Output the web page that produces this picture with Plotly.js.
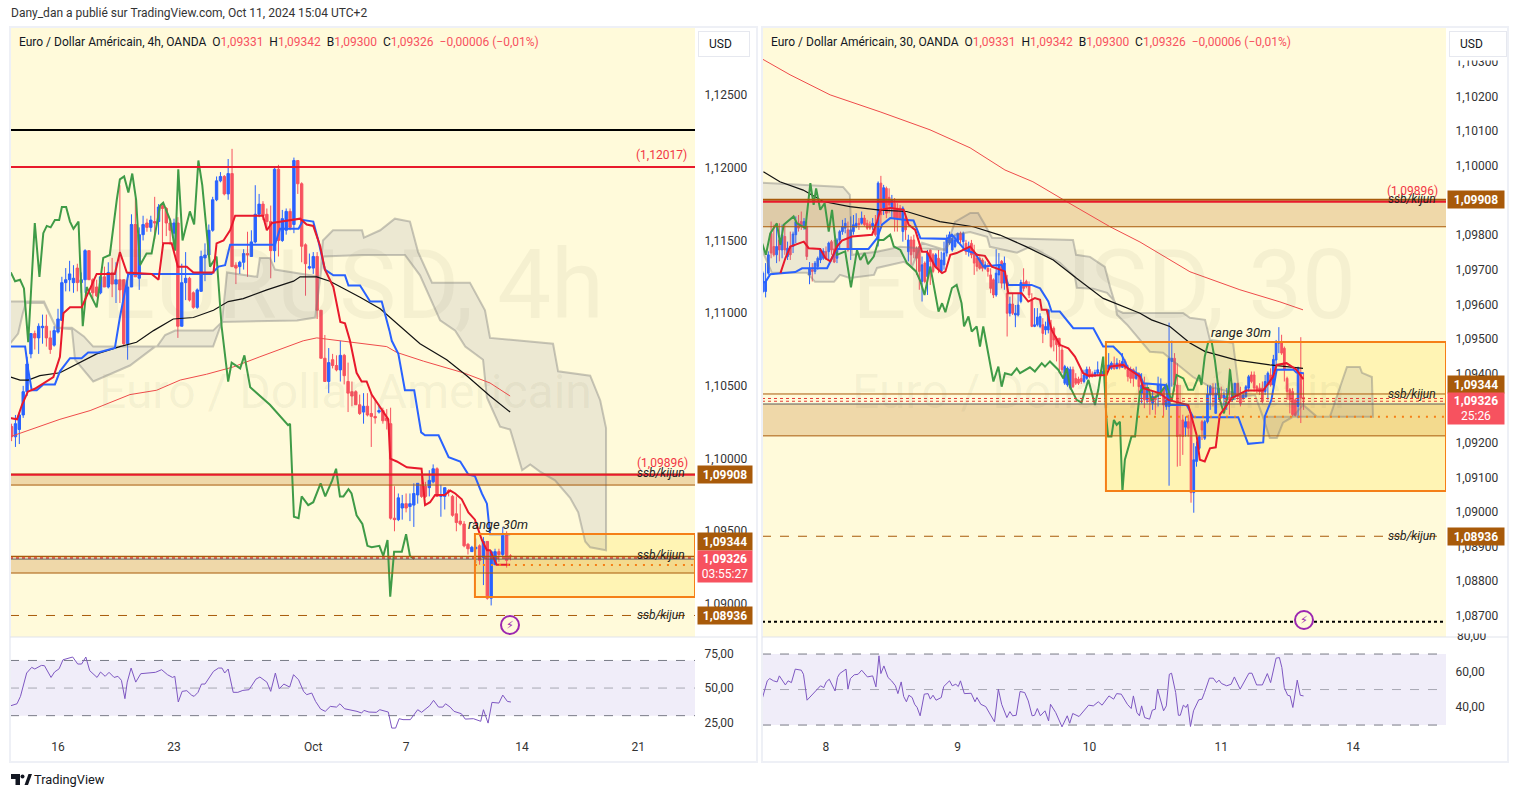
<!DOCTYPE html>
<html><head><meta charset="utf-8">
<script src="https://cdn.plot.ly/plotly-3.0.1.min.js"></script>
<style>html,body{margin:0;padding:0;background:#fff}#c{width:1518px;height:797px}</style>
</head><body><div id="c"></div>
<script>
// ---------- LEFT PANEL (4h) candles ----------
const lOpen=[1.1022,1.1015,1.1020,1.1030,1.1046,1.1072,1.1086,1.1083,1.1090,1.1091,1.1083,1.1078,1.1087,1.1095,1.1121,1.1123,1.1121,1.1131,1.1121,1.1123,1.1143,1.1123,1.1118,1.1114,1.1125,1.1118,1.1128,1.1120,1.1123,1.1123,1.1079,1.1118,1.1161,1.1124,1.1154,1.1162,1.1159,1.1163,1.1163,1.1174,1.1172,1.1162,1.1155,1.1162,1.1091,1.1121,1.1124,1.1114,1.1104,1.1115,1.1138,1.1140,1.1157,1.1178,1.1191,1.1194,1.1182,1.1196,1.1133,1.1132,1.1135,1.1141,1.1139,1.1149,1.1168,1.1175,1.1168,1.1163,1.1143,1.1199,1.1150,1.1157,1.1170,1.1161,1.1205,1.1189,1.1147,1.1131,1.1131,1.1139,1.1102,1.1069,1.1053,1.1068,1.1064,1.1061,1.1071,1.1053,1.1046,1.1046,1.1037,1.1032,1.1036,1.1031,1.1029,1.1032,1.1033,1.1028,1.1024,1.0959,1.0958,1.0966,1.0969,1.0967,1.0968,1.0975,1.0982,1.0981,1.0980,1.0984,1.0993,1.0974,1.0974,1.0978,1.0974,1.0962,1.0957,1.0955,1.0941,1.0936,1.0938,1.0940,1.0932,1.0943,1.0904,1.0927,1.0936,1.0934,1.0948,1.09331];
const lHigh=[1.1024,1.1030,1.1032,1.1050,1.1070,1.1086,1.1088,1.1093,1.1099,1.1099,1.1088,1.1091,1.1103,1.1125,1.1131,1.1136,1.1133,1.1134,1.1128,1.1144,1.1143,1.1124,1.1123,1.1127,1.1132,1.1135,1.1138,1.1135,1.1188,1.1123,1.1128,1.1168,1.1179,1.1159,1.1167,1.1165,1.1167,1.1180,1.1175,1.1175,1.1173,1.1165,1.1165,1.1166,1.1134,1.1142,1.1125,1.1115,1.1117,1.1143,1.1148,1.1161,1.1180,1.1194,1.1197,1.1195,1.1206,1.1213,1.1135,1.1136,1.1144,1.1156,1.1157,1.1188,1.1182,1.1177,1.1172,1.1174,1.1200,1.1202,1.1171,1.1172,1.1172,1.1207,1.1205,1.1190,1.1148,1.1141,1.1142,1.1142,1.1102,1.1085,1.1076,1.1072,1.1071,1.1081,1.1072,1.1066,1.1053,1.1047,1.1044,1.1045,1.1045,1.1045,1.1041,1.1037,1.1035,1.1034,1.1035,1.0981,1.0976,1.0975,1.0976,1.0976,1.0983,1.0983,1.0990,1.0984,1.0992,1.0996,1.0994,1.0982,1.0980,1.0979,1.0975,1.0974,1.0969,1.0957,1.0942,1.0940,1.0945,1.0941,1.0946,1.0943,1.0937,1.0938,1.0938,1.0953,1.0950,1.09342];
const lLow=[1.1012,1.1008,1.1010,1.1028,1.1043,1.1069,1.1075,1.1072,1.1079,1.1077,1.1072,1.1077,1.1086,1.1095,1.1115,1.1115,1.1114,1.1115,1.1114,1.1114,1.1123,1.1110,1.1111,1.1113,1.1118,1.1117,1.1111,1.1107,1.1107,1.1078,1.1068,1.1118,1.1125,1.1116,1.1150,1.1156,1.1156,1.1151,1.1154,1.1148,1.1153,1.1147,1.1143,1.1083,1.1091,1.1109,1.1108,1.1103,1.1103,1.1115,1.1122,1.1139,1.1156,1.1177,1.1190,1.1181,1.1178,1.1132,1.1120,1.1127,1.1130,1.1125,1.1139,1.1148,1.1166,1.1164,1.1159,1.1124,1.1135,1.1139,1.1149,1.1154,1.1157,1.1155,1.1182,1.1135,1.1112,1.1130,1.1127,1.1096,1.1069,1.1053,1.1045,1.1062,1.1060,1.1053,1.1051,1.1032,1.1036,1.1037,1.1030,1.1024,1.1029,1.1008,1.1024,1.1031,1.1024,1.1020,1.0958,1.0950,1.0957,1.0958,1.0963,1.0957,1.0953,1.0969,1.0973,1.0973,1.0974,1.0983,1.0974,1.0960,1.0965,1.0974,1.0960,1.0950,1.0954,1.0939,1.0934,1.0936,1.0928,1.0927,1.0913,1.0903,1.0899,1.0927,1.0929,1.0933,1.0925,1.09300];
const lClose=[1.1015,1.1024,1.1030,1.1046,1.1065,1.1086,1.1083,1.1091,1.1091,1.1083,1.1075,1.1088,1.1096,1.1121,1.1123,1.1127,1.1124,1.1121,1.1123,1.1143,1.1123,1.1114,1.1112,1.1125,1.1118,1.1128,1.1120,1.1123,1.1116,1.1079,1.1118,1.1161,1.1125,1.1154,1.1161,1.1159,1.1164,1.1162,1.1173,1.1172,1.1162,1.1157,1.1162,1.1091,1.1121,1.1124,1.1109,1.1104,1.1116,1.1139,1.1140,1.1157,1.1178,1.1191,1.1194,1.1182,1.1196,1.1132,1.1131,1.1135,1.1141,1.1140,1.1149,1.1168,1.1175,1.1167,1.1163,1.1143,1.1199,1.1150,1.1165,1.1170,1.1159,1.1205,1.1189,1.1146,1.1134,1.1132,1.1139,1.1102,1.1069,1.1053,1.1066,1.1064,1.1061,1.1071,1.1057,1.1045,1.1043,1.1037,1.1031,1.1036,1.1030,1.1029,1.1028,1.1033,1.1026,1.1026,1.0959,1.0958,1.0973,1.0969,1.0966,1.0969,1.0976,1.0983,1.0974,1.0974,1.0985,1.0993,1.0974,1.0975,1.0980,1.0977,1.0961,1.0956,1.0955,1.0940,1.0938,1.0939,1.0939,1.0930,1.0943,1.0904,1.0936,1.0936,1.0934,1.0947,1.0930,1.09326];
// left lines (bar number, price)
const lConvX=[-0.4,1.4,2.7,4.2,6,10.8,12.5,13.4,15.1,18.1,19.8,22,26.7,28,29.8,36.2,38,39.2,41.4,43,45.3,47,52.2,53,54.8,56.5,57.8,65,66,67.3,74.6,76.3,78,79.8,81,83.2,85,86.2,87.5,89.2,90.5,91.8,93.1,94.8,97.4,97.9,99.6,102.2,106,106.9,108.2,109.5,112,113.4,114.7,116.4,118.1,119.8,121.6,122.9,123.7,125.4,128.9];
const lConvY=[1.1028,1.1027,1.1037,1.1046,1.1048,1.1056,1.1070,1.1100,1.1104,1.1104,1.1114,1.1127,1.1127,1.1142,1.1128,1.1127,1.1123,1.1148,1.1148,1.1132,1.1132,1.1128,1.1128,1.1148,1.1150,1.1157,1.1167,1.1167,1.1157,1.1162,1.1165,1.1161,1.1160,1.1146,1.1130,1.1118,1.1094,1.1093,1.1081,1.1059,1.1053,1.1053,1.1044,1.1037,1.1027,1.1000,1.0998,1.0994,1.0993,1.0968,1.0970,1.0975,1.0975,1.0978,1.0976,1.0972,1.0963,1.0958,1.0944,1.0937,1.0937,1.0927,1.0927];
const lBaseX=[-0.2,3.5,4.3,5.2,6.5,8.2,11.2,12.5,15.1,18.1,19.8,22.4,26.7,28,30.2,51.7,53.5,55.2,56.5,57.3,68.1,69.4,74.2,75.4,78,79.3,81,83.2,86.2,87.1,90.1,92.7,95.7,97.7,98.3,100,101.7,104.1,105.9,106.9,110.4,113,116,118.1,119.8,121.6,122.9,123.7,128.9];
const lBaseY=[1.1077,1.1077,1.1061,1.1047,1.1047,1.1051,1.1051,1.1060,1.1069,1.1069,1.1073,1.1073,1.1076,1.1097,1.1127,1.1127,1.1132,1.1133,1.1147,1.1147,1.1147,1.1158,1.1158,1.1164,1.1163,1.1150,1.1130,1.1126,1.1126,1.1119,1.1119,1.1108,1.1108,1.1088,1.1081,1.1072,1.1047,1.1047,1.1018,1.1016,1.1016,1.1001,1.0998,1.0989,1.0988,1.0976,1.0969,1.0948,1.0948];
const lLagX=[-0.2,0.9,2.2,3.2,4.3,6,7.2,8.2,9.1,10.1,11.2,12.3,13,14.1,15.1,16,17.3,18.4,19.4,20.7,22,23.7,25.4,27.2,28,29.1,30.2,31.2,32.2,33.2,34.9,36.2,38.4,39.2,41,42.3,43.1,44.2,46.1,47.2,48.3,49.3,51.3,53,54.3,56,56.9,59.1,60.2,61.7,66.8,71.5,72,73,74.2,75,76.7,78,79.9,81.1,82.9,83.9,84.9,85.8,87.1,87.9,89.2,90.7,92,93.1,95.1,96.1,97.2,97.9,98.9,100.9,102,103,104.1];
const lLagY=[1.1128,1.1122,1.1123,1.1117,1.1080,1.1162,1.1125,1.1155,1.1160,1.1159,1.1164,1.1164,1.1173,1.1173,1.1163,1.1158,1.1163,1.1091,1.1118,1.1111,1.1104,1.1138,1.1140,1.1178,1.1192,1.1194,1.1183,1.1196,1.1178,1.1133,1.1141,1.1141,1.1174,1.1176,1.1164,1.1143,1.1199,1.1150,1.1170,1.1161,1.1205,1.1188,1.1132,1.1139,1.1091,1.1053,1.1066,1.1062,1.1071,1.1049,1.1037,1.1023,1.1024,1.0960,1.0959,1.0974,1.0968,1.0970,1.0983,1.0974,1.0985,1.0993,1.0974,1.0974,1.0979,1.0976,1.0961,1.0955,1.0940,1.0939,1.0940,1.0933,1.0944,1.0905,1.0936,1.0936,1.0948,1.0933,1.0931];
const lUpX=[-0.4,8.4,11.5,15.6,18.7,21.1,37.6,39.7,42.3,52.1,54.4,55.7,63.5,64.2,66.8,68.1,72.8,79.8,80.5,83.1,90.6,91.1,95.3,99.1,103,105.1,108.7,118.5,122.4,123.7,140,141.3,149.6,152.2,153.7];
const lUpY=[1.1108,1.1108,1.1090,1.1090,1.1084,1.1077,1.1077,1.1085,1.1088,1.1088,1.1094,1.1128,1.1125,1.1138,1.1138,1.1130,1.1128,1.1125,1.1150,1.1157,1.1157,1.1152,1.1157,1.1165,1.1163,1.1142,1.1121,1.1121,1.1102,1.1083,1.1079,1.1060,1.1057,1.1040,1.1021];
const lLoX=[-0.4,1.7,2.9,3.7,8.4,11.5,15.6,16.4,21.1,30.6,37.1,52.1,54.4,73.8,78.5,80.5,90.6,101.7,105.6,110.8,114.7,117.3,121.9,122.9,126.3,128.9,129.7,132,134.1,136.6,140.5,144.4,146.5,148.3,149.6,153.7];
const lLoY=[1.1079,1.1086,1.1100,1.1107,1.1107,1.1090,1.1089,1.1068,1.1053,1.1064,1.1077,1.1077,1.1094,1.1095,1.1097,1.1139,1.1140,1.1140,1.1126,1.1095,1.1088,1.1077,1.1068,1.1042,1.1022,1.1020,1.1013,1.0992,1.0996,1.0991,1.0985,1.0973,1.0963,1.0943,1.0939,1.0937];
const lBlackX=[-0.2,2.2,4.3,7.3,12.5,16.8,22,28,32.3,36.7,41.8,47,52.2,56,59.9,66,72.9,74.6,78.9,82.3,90.1,95.3,101.7,105.6,112.5,117.7,123.7,128.9];
const lBlackY=[1.1056,1.1054,1.1054,1.1057,1.1059,1.1065,1.1072,1.1077,1.1080,1.1088,1.1096,1.1097,1.1102,1.1108,1.1110,1.1116,1.1122,1.1125,1.1125,1.1122,1.1111,1.1103,1.1088,1.1079,1.1068,1.1057,1.1043,1.1032];
const lMaRedX=[-0.4,4.8,12.5,20.3,30.6,37.5,43.6,50.4,57.3,64.2,72,75.4,78.9,87.5,97,99.6,106.5,116.8,123.7,128.9];
const lMaRedY=[1.1015,1.1020,1.1027,1.1033,1.1044,1.1047,1.1054,1.1058,1.1063,1.1070,1.1078,1.1081,1.1083,1.1080,1.1077,1.1073,1.1067,1.1059,1.1052,1.1043];
const lRsiX=[-0.2,1.4,2.3,3.9,5.2,6,7.7,8.5,10.2,11.1,12.3,13.3,15.8,17.1,18.1,19.2,20.2,22.1,23,24.2,25.2,26.5,27.5,28.4,29.3,29.9,30.9,32.1,33.4,34.7,37.2,38.8,40.3,41.6,42.2,43.1,44.1,45.3,46.6,47.2,48.2,49.1,50,52.2,53.5,54.4,55.1,56,57.3,58.5,59.8,61.4,63.2,64.2,66,67,68.2,69.2,70.4,71.9,72.9,74.2,75.5,76.3,77.6,78.6,79.9,81.1,82.4,84,84.9,86.1,87.4,89.3,90.5,91.1,92.4,94.3,95.2,97.4,98.3,99.3,100.2,101.2,103.1,104.3,105,106,107.5,108.1,109.1,110.4,111.5,112.2,113.4,114.4,116.3,117.3,119.4,120.3,121.3,122,123.2,124.2,126,127,128.2,129.1];
const lRsiY=[37.2,38.6,44,60.9,65,63.8,66.4,66.2,57.7,61.6,64,70.5,72.5,67.4,67.4,72.5,62.6,57.7,61.6,58.5,61.4,57.7,58.5,55.6,42.3,54.3,64.5,54.3,60.4,60.9,61.4,63.3,59.7,57.7,58.5,39.9,47.6,48.1,44.7,44,46.9,52.9,52.9,62.1,64.5,64.5,60.9,63.8,46.9,46.9,48.3,48.8,56.5,58,54.3,47.6,60.9,49.5,52.9,50.7,59.7,56,47.6,45.2,46.4,40.3,34.8,33.1,36.7,36.2,38.6,35,34.3,33.1,31.9,33.8,32.6,32.4,34.3,32.6,21,21,27.8,27.1,27.1,31.4,34.3,32.4,36.2,37.2,41.1,36.2,36.2,38.6,36.2,33.1,31.4,27.5,27.8,27.1,25.9,34.3,24.6,39.6,39.1,44.9,40.3,39.9];
// ---------- RIGHT PANEL (30m) candles ----------
const rOpen=[1.09637,1.09637,1.09690,1.09805,1.09767,1.09743,1.09786,1.09757,1.09796,1.09738,1.09767,1.09767,1.09801,1.09834,1.09839,1.09825,1.09825,1.09685,1.09700,1.09695,1.09709,1.09728,1.09733,1.09752,1.09752,1.09781,1.09760,1.09733,1.09786,1.09810,1.09820,1.09815,1.09762,1.09810,1.09825,1.09834,1.09834,1.09849,1.09834,1.09830,1.09825,1.09830,1.09786,1.09950,1.09878,1.09935,1.09909,1.09878,1.09892,1.09878,1.09878,1.09810,1.09849,1.09752,1.09786,1.09786,1.09762,1.09767,1.09666,1.09719,1.09680,1.09757,1.09743,1.09709,1.09733,1.09695,1.09714,1.09748,1.09777,1.09757,1.09767,1.09781,1.09805,1.09781,1.09776,1.09752,1.09776,1.09748,1.09733,1.09733,1.09728,1.09704,1.09704,1.09685,1.09671,1.09627,1.09685,1.09724,1.09661,1.09632,1.09574,1.09601,1.09569,1.09569,1.09608,1.09663,1.09666,1.09656,1.09613,1.09536,1.09541,1.09536,1.09541,1.09526,1.09526,1.09531,1.09531,1.09502,1.09502,1.09468,1.09372,1.09367,1.09358,1.09411,1.09386,1.09384,1.09386,1.09377,1.09386,1.09412,1.09399,1.09393,1.09401,1.09403,1.09399,1.09401,1.09412,1.09415,1.09428,1.09415,1.09430,1.09418,1.09435,1.09412,1.09411,1.09411,1.09386,1.09401,1.09343,1.09372,1.09324,1.09329,1.09314,1.09334,1.09334,1.09338,1.09358,1.09305,1.09305,1.09435,1.09444,1.09367,1.09223,1.09266,1.09245,1.09261,1.09281,1.09056,1.09146,1.09184,1.09261,1.09213,1.09261,1.09338,1.09358,1.09285,1.09338,1.09338,1.09329,1.09324,1.09332,1.09324,1.09338,1.09372,1.09338,1.09329,1.09334,1.09358,1.09396,1.09396,1.09362,1.09358,1.09358,1.09348,1.09367,1.09396,1.09367,1.09439,1.09488,1.09492,1.09473,1.09386,1.09353,1.09348,1.09324,1.09305,1.09401,1.09331];
const rHigh=[1.09695,1.09719,1.09753,1.09839,1.09830,1.09830,1.09834,1.09830,1.09830,1.09781,1.09810,1.09810,1.09854,1.09858,1.09868,1.09849,1.09839,1.09722,1.09719,1.09725,1.09738,1.09762,1.09762,1.09767,1.09781,1.09786,1.09786,1.09791,1.09815,1.09844,1.09849,1.09839,1.09854,1.09858,1.09863,1.09849,1.09868,1.09858,1.09844,1.09839,1.09849,1.09858,1.09955,1.09971,1.09945,1.09940,1.09935,1.09916,1.09907,1.09892,1.09887,1.09883,1.09854,1.09801,1.09796,1.09801,1.09767,1.09781,1.09738,1.09724,1.09757,1.09757,1.09748,1.09748,1.09757,1.09752,1.09781,1.09801,1.09810,1.09796,1.09801,1.09807,1.09810,1.09810,1.09786,1.09781,1.09786,1.09772,1.09748,1.09738,1.09733,1.09724,1.09719,1.09704,1.09675,1.09759,1.09748,1.09728,1.09738,1.09685,1.09622,1.09632,1.09598,1.09632,1.09671,1.09704,1.09671,1.09666,1.09632,1.09589,1.09589,1.09574,1.09560,1.09550,1.09584,1.09555,1.09536,1.09507,1.09502,1.09478,1.09425,1.09420,1.09420,1.09420,1.09401,1.09391,1.09411,1.09411,1.09420,1.09420,1.09406,1.09411,1.09435,1.09411,1.09439,1.09449,1.09459,1.09435,1.09449,1.09444,1.09439,1.09459,1.09441,1.09425,1.09420,1.09415,1.09420,1.09403,1.09401,1.09391,1.09372,1.09348,1.09348,1.09338,1.09391,1.09386,1.09362,1.09372,1.09547,1.09495,1.09459,1.09430,1.09367,1.09281,1.09276,1.09281,1.09285,1.09199,1.09204,1.09223,1.09266,1.09266,1.09367,1.09367,1.09372,1.09372,1.09372,1.09362,1.09348,1.09358,1.09415,1.09372,1.09372,1.09372,1.09362,1.09343,1.09367,1.09396,1.09406,1.09406,1.09367,1.09372,1.09377,1.09396,1.09406,1.09415,1.09454,1.09497,1.09534,1.09512,1.09478,1.09391,1.09358,1.09358,1.09329,1.09420,1.09505,1.09401];
const rLow=[1.09632,1.09620,1.09685,1.09733,1.09738,1.09719,1.09724,1.09733,1.09743,1.09728,1.09728,1.09748,1.09777,1.09810,1.09815,1.09815,1.09728,1.09658,1.09666,1.09687,1.09700,1.09719,1.09728,1.09728,1.09728,1.09743,1.09719,1.09719,1.09762,1.09801,1.09805,1.09752,1.09728,1.09801,1.09820,1.09815,1.09830,1.09825,1.09815,1.09815,1.09815,1.09796,1.09767,1.09830,1.09858,1.09849,1.09863,1.09849,1.09810,1.09810,1.09844,1.09781,1.09786,1.09724,1.09714,1.09733,1.09685,1.09642,1.09608,1.09661,1.09627,1.09656,1.09690,1.09704,1.09690,1.09690,1.09700,1.09738,1.09772,1.09752,1.09762,1.09776,1.09776,1.09757,1.09743,1.09738,1.09733,1.09685,1.09695,1.09700,1.09695,1.09700,1.09680,1.09632,1.09618,1.09622,1.09661,1.09646,1.09642,1.09507,1.09565,1.09569,1.09534,1.09565,1.09603,1.09637,1.09646,1.09618,1.09534,1.09534,1.09536,1.09531,1.09488,1.09512,1.09516,1.09473,1.09464,1.09435,1.09401,1.09401,1.09367,1.09362,1.09353,1.09358,1.09367,1.09367,1.09370,1.09372,1.09382,1.09386,1.09389,1.09391,1.09396,1.09391,1.09396,1.09391,1.09411,1.09411,1.09411,1.09412,1.09412,1.09416,1.09411,1.09377,1.09372,1.09362,1.09382,1.09343,1.09314,1.09300,1.09314,1.09281,1.09295,1.09281,1.09305,1.09334,1.09276,1.09295,1.09076,1.09362,1.09348,1.09131,1.09133,1.09165,1.09218,1.09218,1.09027,1.08998,1.09131,1.09179,1.09208,1.09208,1.09256,1.09295,1.09305,1.09285,1.09324,1.09329,1.09305,1.09295,1.09281,1.09319,1.09324,1.09324,1.09305,1.09324,1.09329,1.09348,1.09372,1.09348,1.09343,1.09338,1.09314,1.09338,1.09324,1.09362,1.09362,1.09411,1.09459,1.09454,1.09377,1.09324,1.09285,1.09276,1.09276,1.09271,1.09257,1.09295];
const rClose=[1.09690,1.09666,1.09743,1.09748,1.09743,1.09767,1.09757,1.09801,1.09757,1.09762,1.09743,1.09803,1.09839,1.09820,1.09825,1.09839,1.09738,1.09704,1.09695,1.09719,1.09733,1.09757,1.09754,1.09733,1.09777,1.09757,1.09722,1.09786,1.09810,1.09825,1.09834,1.09757,1.09815,1.09830,1.09834,1.09830,1.09849,1.09830,1.09820,1.09820,1.09834,1.09801,1.09950,1.09859,1.09937,1.09863,1.09887,1.09902,1.09849,1.09849,1.09849,1.09878,1.09815,1.09786,1.09743,1.09752,1.09733,1.09695,1.09714,1.09666,1.09748,1.09724,1.09695,1.09743,1.09700,1.09728,1.09748,1.09786,1.09801,1.09791,1.09786,1.09805,1.09786,1.09805,1.09752,1.09762,1.09743,1.09719,1.09709,1.09704,1.09704,1.09714,1.09695,1.09646,1.09627,1.09690,1.09714,1.09661,1.09719,1.09574,1.09601,1.09574,1.09574,1.09598,1.09663,1.09646,1.09651,1.09627,1.09536,1.09541,1.09563,1.09565,1.09516,1.09536,1.09584,1.09478,1.09497,1.09483,1.09478,1.09411,1.09420,1.09415,1.09412,1.09362,1.09372,1.09372,1.09377,1.09396,1.09412,1.09391,1.09391,1.09403,1.09411,1.09396,1.09406,1.09425,1.09425,1.09430,1.09414,1.09430,1.09418,1.09435,1.09415,1.09391,1.09386,1.09386,1.09401,1.09362,1.09367,1.09324,1.09358,1.09319,1.09334,1.09324,1.09367,1.09367,1.09309,1.09324,1.09444,1.09444,1.09367,1.09218,1.09220,1.09218,1.09261,1.09242,1.09056,1.09151,1.09189,1.09218,1.09237,1.09261,1.09341,1.09362,1.09338,1.09343,1.09358,1.09329,1.09338,1.09334,1.09324,1.09348,1.09372,1.09334,1.09314,1.09338,1.09362,1.09391,1.09377,1.09358,1.09353,1.09348,1.09319,1.09377,1.09401,1.09367,1.09441,1.09492,1.09492,1.09459,1.09411,1.09348,1.09324,1.09281,1.09279,1.09415,1.09329,1.09326];
const rConvX=[7.4,9.2,11,15.9,17.7,21.9,23.8,25.6,28,29.8,33.5,40.8,42.6,43.8,47.4,52.3,54.1,56.5,59,60.8,63.8,66.3,67.5,69.3,71.6,74,76.5,78.9,81.9,84.4,89.2,90.4,95.3,97.7,100.1,102,102.6,104.4,106.2,109.2,112.3,114.7,117.7,119.6,126.2,127.5,132.3,134.7,138.4,139.6,145.7,148.7,156,159,160.2,162,163.9,166,167.5,169.3,171.8,177.2,183.3,186.9,188.2,191.8,195.4,197.9];
const rConvY=[1.0969,1.09733,1.09767,1.09781,1.09762,1.0976,1.09733,1.09724,1.09767,1.09784,1.09796,1.09801,1.09839,1.09873,1.09878,1.09873,1.0983,1.09815,1.09752,1.09752,1.09709,1.0969,1.09695,1.09743,1.09748,1.09757,1.09767,1.09743,1.0974,1.09709,1.09695,1.09632,1.09632,1.09608,1.09618,1.09613,1.09584,1.09584,1.09526,1.09483,1.09473,1.09449,1.09401,1.09394,1.09396,1.0942,1.09425,1.09411,1.09391,1.09358,1.09343,1.09324,1.09309,1.09223,1.09151,1.09146,1.09184,1.09187,1.09281,1.093,1.09329,1.09351,1.09351,1.09391,1.09425,1.0943,1.09411,1.09384];
const rBaseX=[0.7,1.9,3.7,8,12.8,15.3,24.4,26.8,28,39.5,42.6,44.4,47.4,52.3,55.9,58.4,68.1,69.9,74.6,76.5,78.3,81.3,88,90.4,98.9,102,105,106.2,109.2,114.1,121.4,125,128.7,131.7,134.1,138.4,139.6,147.5,149.3,155.4,157.8,174.2,177.8,183.3,183.9,186.3,188.2,194.2,195.4,198.1];
const rBaseY=[1.09664,1.09664,1.09687,1.0969,1.09693,1.09704,1.09704,1.09743,1.0976,1.0976,1.09791,1.0983,1.09849,1.09844,1.09842,1.09791,1.09789,1.09801,1.09757,1.09752,1.09748,1.09709,1.09714,1.09656,1.09656,1.09646,1.09608,1.09579,1.09579,1.09531,1.09531,1.09478,1.09478,1.09454,1.09415,1.09396,1.09372,1.09367,1.09309,1.09309,1.09274,1.09274,1.09197,1.09201,1.09276,1.09324,1.09411,1.09412,1.09403,1.09401];
const rLagX=[0.7,2.1,3.7,6.1,7.4,8.6,12.2,13.4,16.5,18.3,19.5,20.4,21.9,23.5,25,26.2,28,31,33.1,35.3,36.5,38.1,39.3,41.4,43.2,45,47.4,48.7,51.1,53.5,56.8,58.4,59.9,62,65,66.3,67.5,69.9,71.6,73.4,74.3,75.9,77.1,78.9,80.1,81.3,85,86.8,88,89.2,91.6,93.5,94.7,98.3,100.1,102.6,103.8,105.6,108.6,110.5,111.7,112.9,115.3,117.1,119.6,122,123.2,125,126.2,126.8,128,128.9,129.9,131.1,132,132.9,135.3,136.6,138.4,139.6,141.4,142.6,145.1,148.1,149.9,151.7,154.2,156,157.8,160,160.8,162,163.3,164.5,165.7,167.5,169,170.6,171.2,172.4];
const rLagY=[1.09777,1.09743,1.09805,1.09834,1.09772,1.0983,1.09854,1.09834,1.0982,1.0995,1.09887,1.09935,1.09873,1.09892,1.0981,1.09873,1.09743,1.09753,1.09649,1.09757,1.09728,1.09748,1.09716,1.09738,1.09786,1.09786,1.09801,1.09767,1.09757,1.09719,1.09695,1.09666,1.09627,1.09709,1.09579,1.09603,1.09577,1.09647,1.09656,1.09603,1.09536,1.09565,1.09521,1.09536,1.09478,1.09536,1.09377,1.0942,1.09362,1.09401,1.09396,1.09415,1.09401,1.09418,1.09406,1.0943,1.0942,1.09435,1.09411,1.09386,1.09415,1.09362,1.09324,1.09316,1.09382,1.09309,1.09353,1.09449,1.09266,1.09218,1.09218,1.09266,1.09252,1.09261,1.09059,1.09151,1.09218,1.09218,1.09348,1.09358,1.09358,1.09324,1.09338,1.09367,1.09319,1.09396,1.09386,1.09353,1.09353,1.09396,1.09367,1.09449,1.09492,1.09492,1.09439,1.09324,1.09285,1.09348,1.09412,1.09324];
const rUpX=[0.7,30.2,32.7,33.5,42.6,51,67.4,71,76.6,79.4,81.9,84.5,114,115.1,120.2,122.7,125.6,127.5,128.6,130,132.2,154.1,156.6,162.1,163.9,172.3,174.8,180.3,183.2,194.1,197.8,202.9,207.6,210.5,213.8,218.5,219.3,222.9,223.3];
const rUpY=[1.09951,1.09939,1.09916,1.09743,1.09752,1.09766,1.09757,1.09838,1.09864,1.09864,1.0983,1.09792,1.09786,1.09743,1.09737,1.09723,1.09708,1.0965,1.09619,1.09584,1.09575,1.09575,1.09561,1.09555,1.09497,1.09489,1.09333,1.09338,1.09275,1.09275,1.0931,1.09275,1.09275,1.09344,1.09419,1.09419,1.09402,1.0939,1.09275];
const rLoX=[0.7,4.3,17.1,20,26.9,29.1,32.7,41.5,42.6,52.4,55.3,59,67.4,71,76.5,82.7,83.7,88.5,93.6,98.3,100.9,109.2,114.7,115.4,121.3,126.4,129.3,130,133.7,142,146.8,157.7,163.9,171.2,174.8,180.3,183.2,185.7,188.3,190.5,194.1,223.3];
const rLoY=[1.09757,1.09691,1.09691,1.09665,1.09665,1.09685,1.09676,1.09685,1.09705,1.09723,1.09708,1.09778,1.09757,1.09801,1.09809,1.09795,1.09766,1.09757,1.09749,1.09766,1.09757,1.0972,1.09679,1.09648,1.09645,1.09633,1.09607,1.0957,1.09541,1.09463,1.0946,1.0939,1.09362,1.09347,1.09333,1.09338,1.09275,1.09214,1.09214,1.09258,1.09275,1.09275];
const rBlackX=[1.2,7.2,15.7,23,32.7,43.7,53.4,65.5,77.7,87.4,97.1,106.8,115.3,125,138.4,142.6,149.3,156.6,162,173.6,185.7,197.8];
const rBlackY=[1.09983,1.09954,1.0993,1.09897,1.09882,1.09872,1.09868,1.09839,1.09824,1.098,1.09766,1.09728,1.09675,1.09617,1.09574,1.09555,1.09536,1.09488,1.09464,1.09439,1.09425,1.09415];
const rMaRedX=[0.7,10.9,25.5,43.7,61.9,76.5,89.2,99.4,111.8,127.5,138.4,156.6,174.8,189.4,197.8];
const rMaRedY=[1.10309,1.10263,1.10205,1.10156,1.10104,1.10052,1.09988,1.09954,1.09896,1.09824,1.0978,1.09694,1.09642,1.09607,1.09584];
const rRsiX=[0.9,2.6,3.5,4.9,6.2,7,9.2,10.2,11.4,12.8,15,15.8,17.1,19.4,21.1,22,23.2,24.1,25.2,27.3,28.2,29,31.3,32,32.9,34.3,35.7,37,39.1,41,42.2,43.3,44,45.1,46.6,47.9,49.3,50.2,51.4,52.3,53.3,54.2,55.4,56.3,57.2,58.3,59.8,61.2,62,63,64.1,66,66.9,69,70,71.3,72.2,73,74.4,76.9,78.3,79,80.4,82.2,85.4,86.8,88,89.9,91,92,93.3,94.7,96.4,97.7,99.1,100,101,102.1,103.8,105.1,105.8,107.7,110,111.9,112.8,113.9,116.2,118.3,119.7,121.4,123.2,124.6,127.1,128.8,129.9,131.6,133.8,135.2,136,137.3,138.2,139,140.1,141.9,142.9,144,144.8,147,148,149.1,149.9,151.4,152.4,153.1,154.2,155.2,155.8,156.8,157.9,159.8,161,161.9,163.7,165.1,166.3,167.2,168.1,170,171.6,172.8,174.9,178.1,179.2,180.9,183,184.8,186,188,189.2,190.1,191,192.2,193.1,194.1,195.7,196.8,198];
const rRsiY=[45.5,54.9,56.2,54.9,54.3,57.7,52.6,54.9,53.9,61.5,60.9,58.6,44,47.9,51.1,52.1,51.1,54.3,55.8,49.2,56.8,59,61.5,50.2,56.2,58.3,58.6,60.9,57.1,57.7,51.5,69,59,63.3,56.8,54.9,52.1,47.7,54.3,46.1,43.1,46.8,45.5,41.7,39.9,35.2,47.4,47.7,44.6,46.8,44,45.5,51.7,54.9,52.1,53,51.7,54.9,47.7,47.9,43.1,45.5,41.7,40.4,31.8,50.2,41.7,34.2,37.6,35.2,35.5,48.9,48.3,43.6,35.2,35.5,39.3,35.2,38,32.3,41.7,37,29,35.2,31,36.5,34.8,38.9,41.2,40.8,43.1,41.2,46.4,44.6,47.7,47.4,41.7,39.3,46.4,37,35.2,40.8,34.2,33.3,38.4,38.9,50.2,38,40.8,58.6,59.2,48.3,35.5,35.5,41.2,39.9,41.7,29.2,38,44.2,44.6,48.3,56.4,56.4,53.9,55.3,53.4,52.1,53,57.1,50.2,59.2,59.2,52.6,52.6,59,53.9,67.7,68,62.4,51.1,46.8,46.4,39.9,55.3,46.8,46.4];
// tick labels and levels
const lTickX=[12,42,78,102,132,162], lTickXText=['16','23','Oct','7','14','21'];
const rTickX=[24,72,120,168,216], rTickXText=['8','9','10','11','14'];
const lTickY=[1.09,1.095,1.10,1.105,1.11,1.115,1.12,1.125];
const lTickYText=['1,09000','1,09500','1,10000','1,10500','1,11000','1,11500','1,12000','1,12500'];
const rTickY=[1.087,1.088,1.089,1.09,1.091,1.092,1.093,1.094,1.095,1.096,1.097,1.098,1.099,1.10,1.101,1.102,1.103];
const rTickYText=['1,08700','1,08800','1,08900','1,09000','1,09100','1,09200','1,09300','1,09400','1,09500','1,09600','1,09700','1,09800','1,09900','1,10000','1,10100','1,10200','1,10300'];
const lRsiTicks=[25,50,75], lRsiText=['25,00','50,00','75,00'];
const rRsiTicks=[40,60], rRsiText=['40,00','60,00'];
const rsiBands=[30,50,70];

const PX=(x)=>x/1518, PY=(y)=>1-y/797;
const F='Roboto, sans-serif';
const BLUE='#2962FF',RED='#F7525F',LRED='#E8192C',GREEN='#3F9B47',BROWN='#A85A0A',ORANGE='#F57F17';

function candle(x,o,h,l,c,xa,ya){return {type:'candlestick',x:x,open:o,high:h,low:l,close:c,xaxis:xa,yaxis:ya,hoverinfo:'skip',
  whiskerwidth:0,increasing:{line:{color:BLUE,width:1},fillcolor:BLUE},decreasing:{line:{color:RED,width:1},fillcolor:RED},showlegend:false};}
function line(x,y,col,w,xa,ya){return {type:'scatter',mode:'lines',x:x,y:y,line:{color:col,width:w,shape:'linear'},xaxis:xa,yaxis:ya,hoverinfo:'skip',showlegend:false};}
function cloud(ux,uy,lx,ly,xa,ya){return {type:'scatter',mode:'lines',x:ux.concat(lx.slice().reverse()),y:uy.concat(ly.slice().reverse()),fill:'toself',
  fillcolor:'rgba(130,135,170,0.15)',line:{color:'rgba(120,120,120,0.4)',width:2},xaxis:xa,yaxis:ya,hoverinfo:'skip',showlegend:false};}
const lIdx=lOpen.map((_,i)=>i), rIdx=rOpen.map((_,i)=>i+1);

const data=[
 cloud(lUpX,lUpY,lLoX,lLoY,'x','y'),
 candle(lIdx,lOpen,lHigh,lLow,lClose,'x','y'),
 line(lMaRedX,lMaRedY,'#EF4B4B',1,'x','y'),
 line(lBlackX,lBlackY,'#111111',1.2,'x','y'),
 line(lLagX,lLagY,GREEN,2,'x','y'),
 line(lBaseX,lBaseY,BLUE,2,'x','y'),
 line(lConvX,lConvY,LRED,2,'x','y'),
 line(lRsiX,lRsiY,'#7E57C2',1,'x','y2'),
 cloud(rUpX,rUpY,rLoX,rLoY,'x2','y3'),
 candle(rIdx,rOpen,rHigh,rLow,rClose,'x2','y3'),
 line(rMaRedX,rMaRedY,'#EF4B4B',1,'x2','y3'),
 line(rBlackX,rBlackY,'#111111',1.2,'x2','y3'),
 line(rLagX,rLagY,GREEN,2,'x2','y3'),
 line(rBaseX,rBaseY,BLUE,2,'x2','y3'),
 line(rConvX,rConvY,LRED,2,'x2','y3'),
 line(rRsiX,rRsiY,'#7E57C2',1,'x2','y4')
];
const shapes=[];
const BG='#FFFADA';
function bgPane(x,y){shapes.push({type:'rect',xref:x+' domain',yref:y+' domain',x0:0,x1:1,y0:0,y1:1,fillcolor:BG,line:{width:0},layer:'below'});}
bgPane('x','y');bgPane('x2','y3');
function rngFill(x,y,a,b,x0,x1){shapes.push({type:'rect',xref:x,yref:y,x0:x0,x1:x1,y0:a,y1:b,fillcolor:'rgba(255,225,60,0.24)',line:{width:0},layer:'below'});}
rngFill('x','y',1.09048,1.09481,119.8,176.7); rngFill('x2','y3',1.09061,1.09491,126,249.9);
function band(x,y,a,b){shapes.push({type:'rect',xref:x+' domain',yref:y,x0:0,x1:1,y0:a,y1:b,fillcolor:'rgba(214,160,90,0.38)',line:{width:0},layer:'below'});}
function lvl(x,y,v,c,w,d){shapes.push({type:'line',xref:x+' domain',yref:y,x0:0,x1:1,y0:v,y1:v,line:{color:c,width:w,dash:d||'solid'},layer:'above'});}
function rng(x,y,a,b,x0,x1){shapes.push({type:'rect',xref:x,yref:y,x0:x0,x1:x1,y0:a,y1:b,fillcolor:'rgba(0,0,0,0)',line:{color:ORANGE,width:2},layer:'above'});}
// left levels
band('x','y',1.09818,1.09888); band('x','y',1.09213,1.09309);
lvl('x','y',1.12259,'#000',2); lvl('x','y',1.12005,LRED,2);
lvl('x','y',1.09818,BROWN,1); lvl('x','y',1.09893,BROWN,1.5); lvl('x','y',1.09888,LRED,2);
lvl('x','y',1.09327,BROWN,1.5); lvl('x','y',1.09316,'#E53935',1.5,'dot'); lvl('x','y',1.09309,'#5a5a5a',1); lvl('x','y',1.09213,BROWN,1);
lvl('x','y',1.08921,BROWN,1,'dash');
// right levels
band('x2','y3',1.09824,1.09896); band('x2','y3',1.0922,1.09312);
lvl('x2','y3',1.09824,BROWN,1); lvl('x2','y3',1.09902,BROWN,2); lvl('x2','y3',1.09896,LRED,2);
lvl('x2','y3',1.09341,BROWN,1); lvl('x2','y3',1.09328,'#E53935',1,'dot'); lvl('x2','y3',1.0932,'#E53935',1,'dot'); lvl('x2','y3',1.09312,'#5a5a5a',1); lvl('x2','y3',1.0922,BROWN,1);
lvl('x2','y3',1.0893,BROWN,1,'dash'); lvl('x2','y3',1.08683,'#000',2,'dot');
// ranges
rng('x','y',1.09048,1.09481,119.8,176.7); rng('x2','y3',1.09061,1.09491,126,249.9);
shapes.push({type:'line',xref:'x',yref:'y',x0:119.8,x1:176.7,y0:1.09268,y1:1.09268,line:{color:ORANGE,width:2,dash:'2px,6px'}});
shapes.push({type:'line',xref:'x2',yref:'y3',x0:126,x1:249.9,y0:1.09275,y1:1.09275,line:{color:ORANGE,width:2,dash:'2px,6px'}});
// rsi
function rsiPane(x,y){shapes.push({type:'rect',xref:x+' domain',yref:y,x0:0,x1:1,y0:30,y1:70,fillcolor:'#F0EDF9',line:{width:0},layer:'below'});
 rsiBands.forEach(v=>shapes.push({type:'line',xref:x+' domain',yref:y,x0:0,x1:1,y0:v,y1:v,line:{color:v==50?'rgba(120,123,134,0.6)':'#787B86',width:1,dash:'dash'},layer:'below'}));}
rsiPane('x','y2');rsiPane('x2','y4');
// frames
function frame(a,b,c,d,col,w){shapes.push({type:'rect',xref:'paper',yref:'paper',x0:PX(a),x1:PX(b),y0:PY(c),y1:PY(d),line:{color:col,width:w},fillcolor:'rgba(0,0,0,0)',layer:'above'});}
frame(10,757,27,762,'#EEF0F6',2);frame(762,1508,27,762,'#EEF0F6',2);
function sep(a,b,y){shapes.push({type:'line',xref:'paper',yref:'paper',x0:PX(a),x1:PX(b),y0:PY(y),y1:PY(y),line:{color:'#E0E3EB',width:1},layer:'above'});}
sep(10,757,637);sep(762,1508,637);
function circ(cx,cy){shapes.push({type:'circle',xref:'paper',yref:'paper',x0:PX(cx-9),x1:PX(cx+9),y0:PY(cy+9),y1:PY(cy-9),line:{color:'#9C27B0',width:2},fillcolor:'#FFFADA',layer:'above'});}
circ(510,625);circ(1304,620);
// logo
const pth=(pts)=>'M'+pts.map(p=>PX(p[0])+','+PY(p[1])).join(' L')+' Z';
[[[11,774],[20,774],[20,785],[15.5,785],[15.5,779],[11,779]],[[24.5,785],[28.5,774],[32,774],[28,785]]].forEach(p=>shapes.push({type:'path',xref:'paper',yref:'paper',path:pth(p),fillcolor:'#131722',line:{width:0},layer:'above'}));
shapes.push({type:'circle',xref:'paper',yref:'paper',x0:PX(20.5),x1:PX(24.5),y0:PY(778.5),y1:PY(774.5),fillcolor:'#131722',line:{width:0},layer:'above'});

const ann=[];
function T(x,y,t,o){ann.push(Object.assign({xref:'paper',yref:'paper',x:PX(x),y:PY(y),text:t,showarrow:false,xanchor:'left',yanchor:'middle',font:{family:F,size:12,color:'#131722'},borderpad:0},o||{}));}
const rv=s=>'<span style="color:'+RED+'">'+s+'</span>';
const sp='\u00A0\u00A0';
function legend(tf){return 'Euro / Dollar Américain, '+tf+', OANDA'+sp+'O'+rv('1,09331')+sp+'H'+rv('1,09342')+sp+'B'+rv('1,09300')+sp+'C'+rv('1,09326')+sp+rv('−0,00006 (−0,01%)');}
T(10,13,'Dany_dan a publié sur TradingView.com, Oct 11, 2024 15:04 UTC+2',{font:{family:F,size:12,color:'#333'}});
T(18,42,legend('4h'),{font:{family:F,size:12,color:'#131722'}});
T(770,42,legend('30'),{font:{family:F,size:12,color:'#131722'}});
T(33,779,'TradingView',{font:{family:F,size:12.8,color:'#131722'}});
// watermarks
const W='rgba(110,110,80,0.07)';
T(352,285,'EURUSD, 4h',{xanchor:'center',font:{family:F,size:96,color:W}});
T(1104,285,'EURUSD, 30',{xanchor:'center',font:{family:F,size:96,color:W}});
T(345,391,'Euro / Dollar Américain',{xanchor:'center',font:{family:F,size:48,color:W}});
T(1098,391,'Euro / Dollar Américain',{xanchor:'center',font:{family:F,size:48,color:W}});
// chart labels
const it=(s)=>'<i>'+s+'</i>';
const RF={family:F,size:12,color:'#F23645'};
[[661,473],[661,555],[661,615],[1412,199],[1412,394],[1412,536]].forEach(p=>T(p[0],p[1],it('ssb/kijun'),{xanchor:'center',font:{family:F,size:12,color:'#222'}}));
T(661,155,'(1,12017)',{xanchor:'center',font:RF});T(662,463,'(1,09896)',{xanchor:'center',font:RF});T(1412,191,'(1,09896)',{xanchor:'center',font:RF});
T(498,524,it('range 30m'),{xanchor:'center',font:{family:F,size:13,color:'#222'}});
T(1241,332,it('range 30m'),{xanchor:'center',font:{family:F,size:13,color:'#222'}});
T(510,625,'⚡',{xanchor:'center',font:{family:'DejaVu Sans',size:11,color:'#9C27B0'}});
T(1304,620,'⚡',{xanchor:'center',font:{family:'DejaVu Sans',size:11,color:'#9C27B0'}});
// 80,00 label above the rsi range, cut at its top as in the picture
T(1456,636,'80,00',{font:{family:F,size:12,color:'#333'}});
T(1448,628,' ',{width:52,height:10,bgcolor:'#fff'});
// USD buttons (the top price label is cut by the button)
T(1448,58,' ',{width:56,height:4,bgcolor:'#fff'});
function usd(x0,w){T(x0,44,' ',{width:w,height:24,bgcolor:'#fff',bordercolor:'#E6E8EF',borderwidth:1});T(x0+10,44,'USD',{font:{family:F,size:12,color:'#131722'}});}
usd(698,50);usd(1449,56);
// price tags
function tag(x,y,t,bg,h,w){T(x,y,t,{width:w||54,height:h||17,align:'center',valign:'middle',bgcolor:bg,font:{family:F,size:12,color:'#fff'}});}
tag(697,474,'<b>1,09908</b>',BROWN);tag(697,541,'<b>1,09344</b>',BROWN);tag(697,566,'<b>1,09326</b><br>03:55:27',RED,31);tag(697,615,'<b>1,08936</b>',BROWN);
tag(1447,199,'<b>1,09908</b>',BROWN,17,56);tag(1447,384,'<b>1,09344</b>',BROWN,17,56);tag(1447,408,'<b>1,09326</b><br>25:26',RED,31,56);tag(1447,536,'<b>1,08936</b>',BROWN,17,56);

const tickF={family:F,size:12,color:'#333'};
const yb=(extra)=>Object.assign({side:'right',showgrid:false,zeroline:false,showline:false,ticks:'outside',ticklen:6,tickcolor:'rgba(0,0,0,0)',tickfont:tickF,tickmode:'array',fixedrange:true},extra);
const layout={width:1518,height:797,margin:{l:0,r:0,t:0,b:0,pad:0},paper_bgcolor:'#fff',plot_bgcolor:'rgba(0,0,0,0)',showlegend:false,hovermode:false,boxgap:0.12,
 xaxis:{domain:[PX(10),PX(695)],range:[-0.41,176.7],anchor:'y2',tickmode:'array',tickvals:lTickX,ticktext:lTickXText,tickfont:tickF,showgrid:false,zeroline:false,ticks:'',ticklen:0,rangeslider:{visible:false},fixedrange:true},
 xaxis2:{domain:[PX(762),PX(1446)],range:[0.685,249.9],anchor:'y4',tickmode:'array',tickvals:rTickX,ticktext:rTickXText,tickfont:tickF,showgrid:false,zeroline:false,ticks:'',ticklen:0,rangeslider:{visible:false},fixedrange:true},
 yaxis:yb({domain:[PY(637),PY(27)],range:[1.08773,1.12968],anchor:'x',tickvals:lTickY,ticktext:lTickYText}),
 yaxis2:yb({domain:[PY(738),PY(637)],range:[13.8,87],anchor:'x',tickvals:lRsiTicks,ticktext:lRsiText}),
 yaxis3:yb({domain:[PY(637),PY(27)],range:[1.08639,1.10401],anchor:'x2',tickvals:rTickY,ticktext:rTickYText}),
 yaxis4:yb({domain:[PY(738),PY(637)],range:[22.7,79.6],anchor:'x2',tickvals:rRsiTicks,ticktext:rRsiText}),
 shapes:shapes,annotations:ann};
Plotly.newPlot('c',data,layout,{displayModeBar:false,staticPlot:true});
</script></body></html>
